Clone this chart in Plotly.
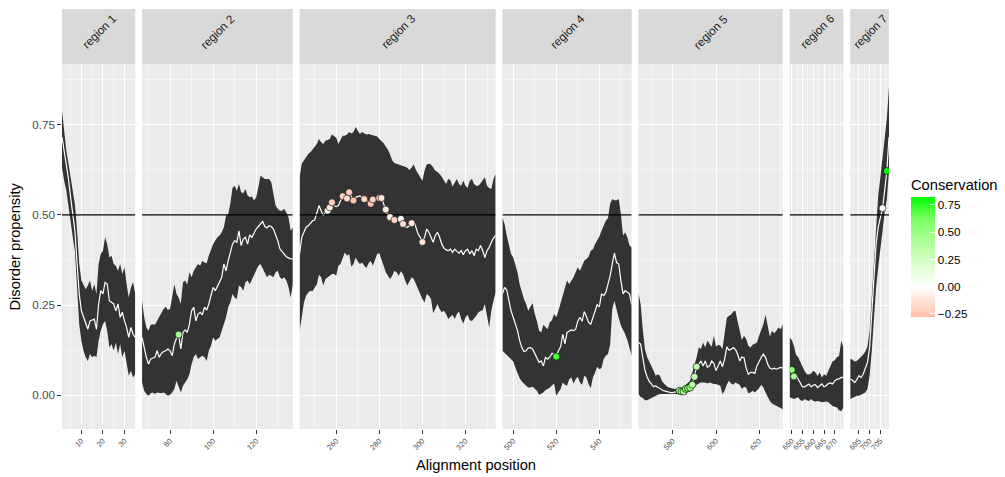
import plotly.graph_objects as go

# ---------------- data ----------------
regions = ["region 1", "region 2", "region 3", "region 4", "region 5", "region 6", "region 7"]
region_start = [1, 67, 243, 495, 564, 649, 691]

r1_mean = [.716, .679, .642, .600, .549, .503, .456, .364, .281, .234, .216, .202, .183, .206, .208, .211, .183,
           .253, .290, .281, .313, .308, .262, .257, .253, .234, .253, .216, .230, .206, .188, .160, .188, .169, .160]
r1_upper = [.790, .734, .679, .642, .605, .577, .530, .456, .364, .318, .308, .294, .304, .318, .290, .308, .281,
            .364, .392, .400, .438, .419, .382, .387, .364, .359, .345, .364, .336, .355, .308, .271, .299, .313, .281]
r1_lower = [.632, .595, .568, .530, .484, .438, .400, .290, .197, .151, .123, .105, .095, .114, .105, .109, .105,
            .151, .179, .197, .206, .179, .132, .142, .123, .146, .114, .142, .105, .123, .086, .054, .068, .049, .058]

r2_mean = [.160, .132, .105, .086, .100, .103, .105, .123, .105, .116, .121, .123, .128, .123, .109, .142, .158, .168,
           .128, .174, .181, .174, .197, .234, .244, .206, .225, .230, .223, .244, .236, .253, .276, .299, .290, .304,
           .313, .327, .364, .345, .373, .396, .419, .429, .424, .456, .415, .433, .438, .419, .445, .438, .452, .461,
           .468, .475, .482, .468, .464, .470, .468, .461, .447, .429, .406, .399, .392, .384, .381, .378, .378]
r2_upper = [.262, .216, .188, .179, .195, .197, .195, .206, .216, .230, .239, .245, .236, .239, .271, .308, .281, .271,
            .253, .313, .318, .306, .341, .327, .345, .355, .364, .359, .373, .368, .366, .387, .406, .419, .429, .438,
            .443, .452, .466, .497, .503, .531, .575, .581, .567, .586, .563, .560, .572, .554, .549, .551, .540, .549,
            .577, .609, .605, .600, .600, .600, .591, .554, .526, .517, .512, .512, .517, .507, .494, .456, .466]
r2_lower = [.035, .012, .003, -.002, .005, .007, .003, .007, .007, .005, .007, .003, -.002, .001, .007, .017, .040,
            .026, .007, .026, .035, .044, .058, .086, .105, .114, .100, .105, .109, .105, .095, .123, .137, .160, .151,
            .156, .160, .179, .197, .216, .244, .257, .281, .271, .267, .304, .300, .290, .313, .318, .308, .322, .332,
            .345, .359, .364, .350, .341, .327, .334, .331, .327, .341, .345, .327, .322, .327, .318, .300, .271, .308]

r3_mean = [.392, .438, .452, .466, .470, .477, .484, .486, .507, .526, .512, .498, .507, .512, .521, .535, .526, .523,
           .526, .540, .552, .551, .546, .563, .549, .540, .549, .551, .553, .549, .544, .541, .537, .531, .543, .540,
           .549, .547, .547, .531, .515, .498, .494, .492, .486, .492, .484, .489, .475, .468, .466, .470, .477, .484,
           .466, .447, .438, .425, .438, .461, .452, .438, .424, .443, .452, .438, .419, .408, .403, .401, .405, .396,
           .405, .399, .394, .401, .390, .401, .405, .392, .401, .387, .405, .401, .415, .401, .382, .401, .410, .424,
           .436, .443]
r3_upper = [.605, .642, .651, .660, .669, .674, .681, .688, .697, .711, .702, .697, .706, .708, .711, .723, .718, .714,
            .697, .711, .720, .720, .723, .730, .726, .730, .744, .734, .725, .730, .727, .723, .725, .723, .720, .720,
            .718, .711, .706, .699, .690, .681, .668, .651, .644, .642, .642, .640, .637, .634, .631, .625, .632, .640,
            .625, .614, .605, .595, .623, .640, .642, .640, .632, .623, .619, .614, .606, .597, .586, .600, .597, .579,
            .588, .600, .586, .581, .595, .581, .575, .595, .600, .586, .581, .581, .588, .597, .605, .581, .575, .572,
            .600, .614]
r3_lower = [.179, .216, .257, .276, .285, .290, .288, .299, .308, .334, .327, .304, .322, .327, .331, .336, .336, .331,
            .359, .364, .382, .396, .387, .392, .356, .364, .382, .371, .364, .368, .359, .353, .366, .373, .359, .378,
            .392, .394, .378, .359, .341, .331, .322, .331, .345, .341, .331, .344, .336, .318, .304, .316, .327, .322,
            .306, .297, .281, .267, .257, .281, .276, .267, .227, .239, .253, .239, .230, .234, .225, .211, .217, .223,
            .211, .225, .232, .211, .199, .216, .223, .208, .206, .214, .220, .230, .232, .236, .253, .216, .188, .234,
            .262, .285]

r4_mean = [.281, .299, .292, .260, .234, .216, .197, .179, .151, .132, .121, .123, .131, .132, .128, .114, .100, .091,
           .095, .081, .105, .100, .106, .116, .112, .107, .123, .134, .169, .142, .174, .177, .181, .179, .183, .206,
           .216, .205, .232, .218, .202, .197, .216, .230, .251, .245, .281, .276, .285, .308, .331, .364, .394, .368,
           .364, .318, .281, .290, .285, .281, .251]
r4_upper = [.494, .475, .443, .415, .392, .382, .364, .341, .308, .285, .267, .253, .234, .245, .255, .225, .206, .179,
            .174, .195, .188, .183, .202, .208, .225, .216, .234, .255, .281, .301, .318, .308, .316, .327, .341, .355,
            .345, .359, .373, .378, .384, .401, .405, .419, .429, .440, .456, .468, .484, .491, .531, .544, .541, .541,
            .544, .503, .443, .452, .438, .415, .410]
r4_lower = [.123, .119, .112, .106, .100, .094, .077, .060, .047, .038, .031, .026, .021, .021, .023, .017, .012, .001,
            .003, .007, .014, .017, .021, .026, .032, -.002, .007, .017, .035, .029, .026, .044, .049, .032, .044, .051,
            .035, .029, .054, .049, .031, .019, .049, .063, .079, .072, .075, .100, .109, .114, .140, .239, .262, .239,
            .214, .193, .181, .169, .153, .134, .109]

r5_mean = [.146, .142, .105, .069, .051, .038, .031, .023, .026, .021, .019, .014, .012, .010, .007, .007, .007, .009,
           .010, .012, .010, .010, .017, .019, .021, .029, .051, .079, .086, .095, .081, .095, .077, .081, .095, .088,
           .068, .081, .095, .079, .100, .134, .125, .127, .132, .127, .114, .095, .106, .104, .075, .058, .063, .063,
           .060, .081, .095, .105, .114, .105, .086, .075, .072, .075, .072, .075, .077, .075]
r5_upper = [.285, .253, .183, .128, .106, .091, .081, .068, .054, .058, .054, .038, .031, .025, .021, .019, .017, .017,
            .017, .017, .019, .023, .029, .035, .040, .063, .081, .105, .132, .128, .146, .132, .151, .142, .134, .165,
            .134, .140, .137, .128, .165, .214, .220, .223, .232, .234, .206, .183, .153, .165, .156, .137, .132, .140,
            .142, .146, .165, .183, .197, .223, .188, .162, .179, .171, .179, .188, .183, .197]
r5_lower = [.003, -.005, -.008, -.014, -.014, -.011, -.008, -.006, -.002, .001, .003, .005, .005, .003, .003, .003,
            .003, .003, .003, .003, .003, .005, .006, .012, .016, .019, .021, .029, .032, .035, .035, .035, .032, .035,
            .034, .031, .031, .029, .026, .003, .012, .029, .040, .032, .029, .035, .032, .029, .017, .023, .021, .005,
            .007, .012, .007, .014, .019, .029, .021, .007, -.006, -.016, -.023, -.027, -.030, -.032, -.036, -.039]

r6_mean = [.072, .070, .052, .058, .044, .032, .023, .023, .026, .031, .023, .028, .029, .021, .026, .031, .023, .026,
           .032, .034, .031, .040, .044, .045, .049, .049]
r6_upper = [.160, .153, .137, .112, .105, .091, .077, .066, .058, .057, .060, .068, .063, .054, .063, .049, .058, .054,
            .068, .081, .094, .097, .105, .109, .151, .132]
r6_lower = [-.006, -.008, -.011, -.008, -.006, -.014, -.016, -.011, -.014, -.016, -.011, -.016, -.018, -.016, -.018,
            -.020, -.020, -.018, -.020, -.025, -.030, -.032, -.034, -.042, -.045, -.034]

r7_mean = [.044, .042, .035, .042, .054, .049, .058, .072, .091, .132, .225, .336, .419, .466, .495, .519, .568, .622,
           .716]
r7_upper = [.100, .099, .093, .095, .100, .105, .112, .121, .134, .179, .281, .373, .484, .554, .605, .660, .716, .767,
            .855]
r7_lower = [-.011, -.008, -.005, -.002, -.002, .001, .005, .007, .017, .054, .123, .206, .299, .355, .396, .456, .507,
            .544, .623]

# conserved positions (points) and their conservation score
point_pos = [84,
             256, 257, 258, 263, 265, 266, 268, 273, 276, 277, 280, 281, 283, 285, 287, 290, 291, 295, 300,
             520,
             583, 584, 585, 586, 587, 588, 589, 590, 591,
             650, 651,
             706, 708]
point_cons = [0.45,
              0.05, -0.12, -0.20, -0.20, -0.15, -0.22, -0.25, -0.18, -0.25, -0.20, -0.22, -0.12, -0.08, -0.05, -0.18,
              -0.02, -0.15, -0.10, -0.12,
              0.70,
              0.55, 0.60, 0.45, 0.65, 0.55, 0.50, 0.40, 0.30, 0.35,
              0.55, 0.45,
              0.02, 0.82]

threshold = 0.5
y_ticks = [0.0, 0.25, 0.5, 0.75]
x_ticks = [[10, 20, 30], [80, 100, 120], [260, 280, 300, 320], [500, 520, 540], [580, 600, 620],
           [650, 655, 660, 665, 670], [695, 700, 705]]
x_minor = [[5, 15, 25, 35], [70, 90, 110, 130], [250, 270, 290, 310, 330], [510, 530, 550], [570, 590, 610, 630],
           [652.5, 657.5, 662.5, 667.5, 672.5], [692.5, 697.5, 702.5, 707.5]]

means = [r1_mean, r2_mean, r3_mean, r4_mean, r5_mean, r6_mean, r7_mean]
uppers = [r1_upper, r2_upper, r3_upper, r4_upper, r5_upper, r6_upper, r7_upper]
lowers = [r1_lower, r2_lower, r3_lower, r4_lower, r5_lower, r6_lower, r7_lower]

# ---------------- styling ----------------
FONT = "Liberation Sans, Arial, Helvetica, sans-serif"
W, H = 1005, 477
ML, MR, MT, MB = 62, 116, 9, 48
PW = W - ML - MR
PH = H - MT - MB
STRIP_PX = 55
panel_top = 1 - STRIP_PX / PH
GAP = 6.8
YRANGE = [-0.094, 0.919]
CMIN, CMAX = -0.274, 0.828
z0 = (0 - CMIN) / (CMAX - CMIN)
colorscale = [[0.0, "#FFBFAB"], [z0 / 2, "#FFE1D4"], [z0, "#FFFFFF"],
              [z0 + (1 - z0) * 0.25, "#DBFFCD"], [z0 + (1 - z0) * 0.5, "#B0FF9A"],
              [z0 + (1 - z0) * 0.75, "#7DFF64"], [1.0, "#00FF00"]]

spans = [len(m) - 1 for m in means]
unit = (PW - GAP * 6) / sum(spans)

fig = go.Figure()
layout = dict(
    width=W, height=H,
    margin=dict(l=ML, r=MR, t=MT, b=MB, autoexpand=False),
    paper_bgcolor="white", plot_bgcolor="#EBEBEB",
    font=dict(family=FONT, color="#1A1A1A"),
    showlegend=False,
    coloraxis=dict(
        cmin=CMIN, cmax=CMAX, colorscale=colorscale,
        colorbar=dict(
            title=dict(text="Conservation", side="top", font=dict(size=14.7, color="black")),
            x=(911 - ML) / PW, xanchor="left", y=(MT + PH - 246) / PH, yanchor="middle",
            len=141, lenmode="pixels", thickness=24, thicknessmode="pixels",
            xpad=0, ypad=0, outlinewidth=0,
            tickvals=[-0.25, 0, 0.25, 0.5, 0.75],
            ticktext=["\u22120.25", "0.00", "0.25", "0.50", "0.75"],
            ticks="inside", tickcolor="white", ticklen=5, tickwidth=1,
            tickfont=dict(size=11.7, color="black"),
        ),
    ),
)
shapes = []
annotations = []

pos_px = 0.0
for k in range(7):
    sfx = "" if k == 0 else str(k + 1)
    xs = list(range(region_start[k], region_start[k] + len(means[k])))
    d0 = max(0.0, min(1.0, pos_px / PW))
    d1 = max(0.0, min(1.0, (pos_px + spans[k] * unit) / PW))
    pos_px += spans[k] * unit + GAP

    # ribbon
    fig.add_trace(go.Scatter(x=xs + xs[::-1], y=uppers[k] + lowers[k][::-1], fill="toself",
                             fillcolor="#333333", mode="lines", line=dict(width=0, color="#333333"),
                             hoverinfo="skip", xaxis="x" + sfx, yaxis="y" + sfx))
    # mean line
    fig.add_trace(go.Scatter(x=xs, y=means[k], mode="lines", line=dict(color="white", width=1.2),
                             xaxis="x" + sfx, yaxis="y" + sfx))
    # threshold line
    fig.add_trace(go.Scatter(x=[xs[0], xs[-1]], y=[threshold, threshold], mode="lines",
                             line=dict(color="black", width=1.3), hoverinfo="skip",
                             xaxis="x" + sfx, yaxis="y" + sfx))
    # conserved points
    px_, py_, pc_ = [], [], []
    for p, c in zip(point_pos, point_cons):
        if xs[0] <= p <= xs[-1]:
            px_.append(p)
            py_.append(means[k][p - xs[0]])
            pc_.append(c)
    if px_:
        fig.add_trace(go.Scatter(x=px_, y=py_, mode="markers",
                                 marker=dict(size=7, color=pc_, coloraxis="coloraxis",
                                             line=dict(color="black", width=0.6)),
                                 xaxis="x" + sfx, yaxis="y" + sfx))

    layout["xaxis" + sfx] = dict(
        domain=[d0, d1], range=[xs[0], xs[-1]], anchor="y" + sfx,
        tickvals=x_ticks[k], tickangle=-45, ticks="outside", ticklen=3.7, tickwidth=1,
        tickcolor="#333333", tickfont=dict(size=7.5, color="#4D4D4D"),
        showgrid=True, gridcolor="white", gridwidth=1.0, zeroline=False, showline=False,
        minor=dict(tickvals=x_minor[k], showgrid=True, gridcolor="white", gridwidth=0.5, ticks=""),
    )
    layout["yaxis" + sfx] = dict(
        domain=[0, panel_top], range=YRANGE, anchor="x" + sfx,
        tickvals=y_ticks, ticktext=["%.2f" % v for v in y_ticks], showticklabels=(k == 0),
        ticks="outside" if k == 0 else "", ticklen=3.7, tickwidth=1, tickcolor="#333333",
        tickfont=dict(size=11.7, color="#4D4D4D"),
        showgrid=True, gridcolor="white", gridwidth=1.0, zeroline=False, showline=False,
        minor=dict(tickvals=[0.125, 0.375, 0.625, 0.875], showgrid=True, gridcolor="white",
                   gridwidth=0.5, ticks=""),
    )
    if k > 0:
        layout["yaxis" + sfx]["matches"] = "y"

    shapes.append(dict(type="rect", xref="paper", yref="paper", x0=d0, x1=d1, y0=panel_top, y1=1,
                       fillcolor="#D9D9D9", line=dict(width=0), layer="below"))
    annotations.append(dict(text=regions[k], xref="paper", yref="paper", x=(d0 + d1) / 2,
                            y=(panel_top + 1) / 2 + 5 / PH, textangle=-45, showarrow=False,
                            font=dict(size=11.7, color="#1A1A1A"), xanchor="center", yanchor="middle"))

annotations.append(dict(text="Disorder propensity", xref="paper", yref="paper", x=(14 - ML) / PW,
                        y=panel_top / 2, textangle=-90, showarrow=False, xanchor="center", yanchor="middle",
                        font=dict(size=14.7, color="black")))
annotations.append(dict(text="Alignment position", xref="paper", yref="paper", x=0.5,
                        y=(PH - (465 - MT)) / PH, showarrow=False, xanchor="center", yanchor="middle",
                        font=dict(size=14.7, color="black")))

layout["shapes"] = shapes
layout["annotations"] = annotations
fig.update_layout(**layout)
fig.write_html("out.html", config={"displayModeBar": False, "staticPlot": True},
               post_script="document.body.style.margin='0';document.body.style.padding='0';"
                           "document.body.style.overflow='hidden';")
